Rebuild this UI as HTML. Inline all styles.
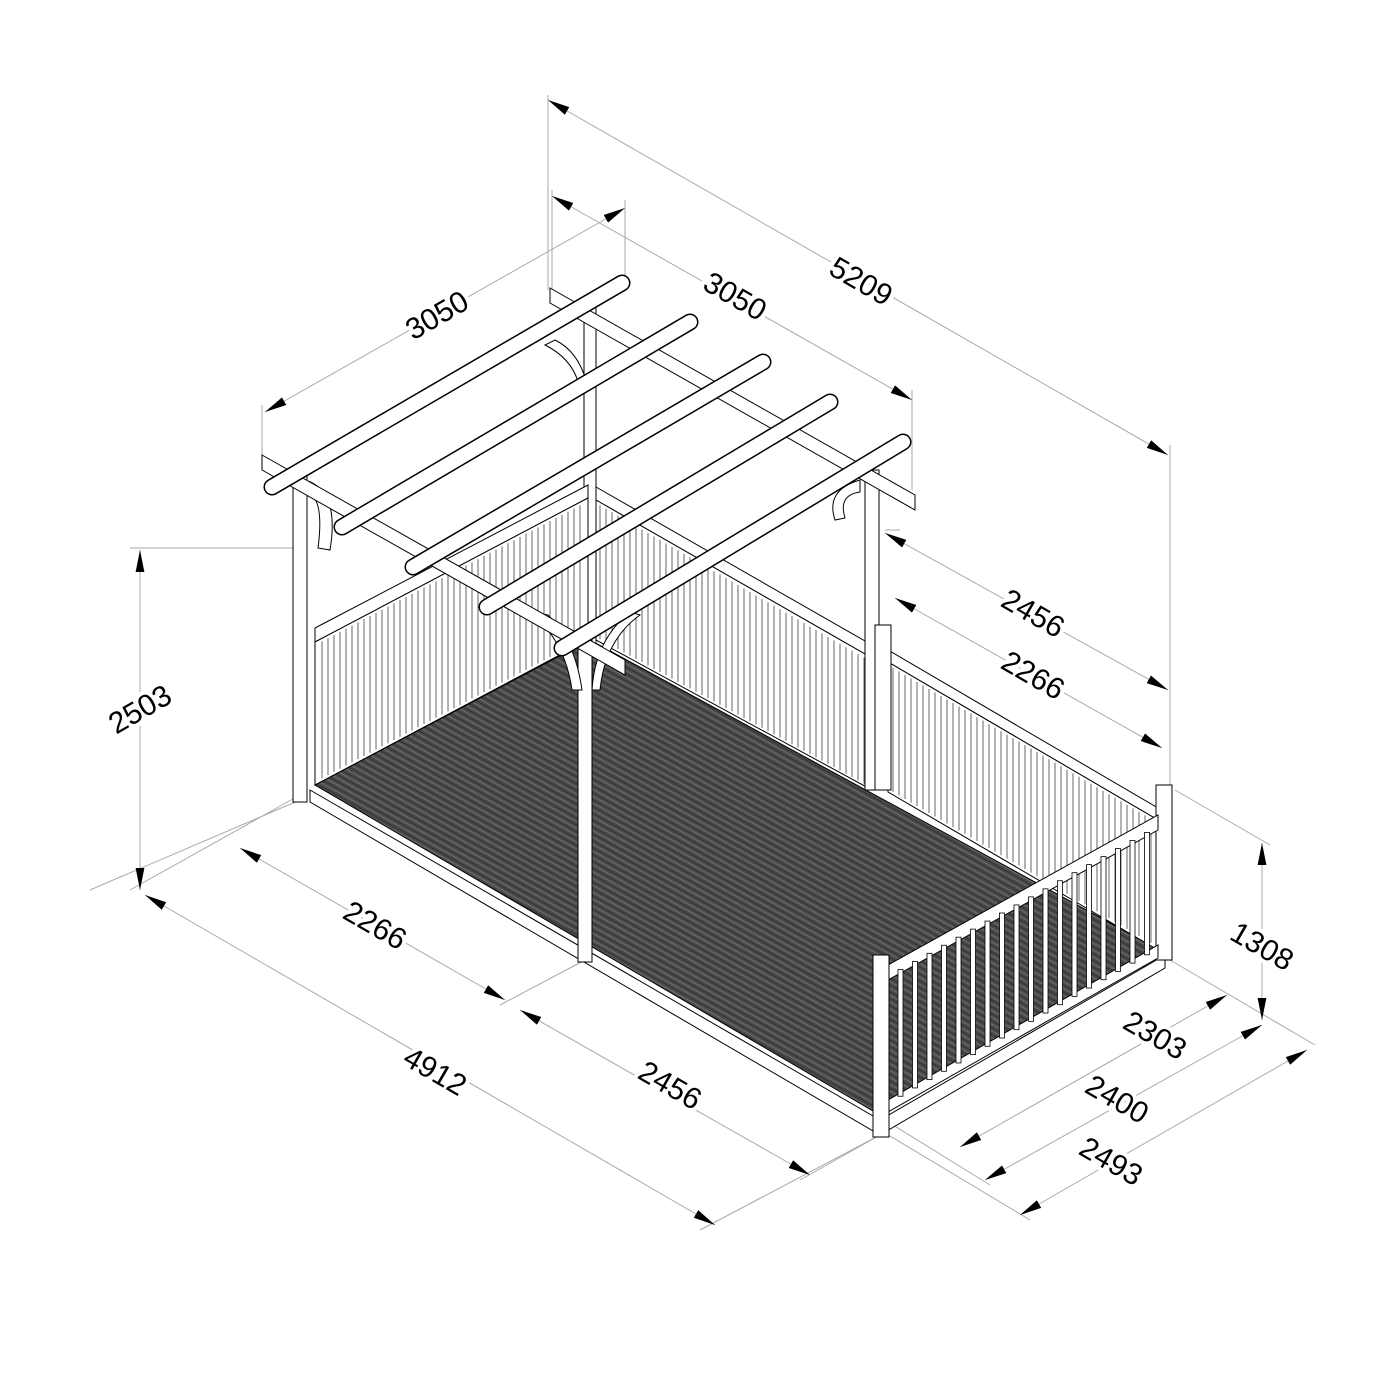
<!DOCTYPE html>
<html><head><meta charset="utf-8"><style>html,body{margin:0;padding:0;background:#fff}svg{display:block}</style></head>
<body>
<svg width="1400" height="1400" viewBox="0 0 1400 1400" xmlns="http://www.w3.org/2000/svg">
<defs>
<marker id="a" viewBox="0 0 10 10" refX="10" refY="5" markerWidth="22" markerHeight="22" markerUnits="userSpaceOnUse" orient="auto-start-reverse">
<path d="M10,5 L0,3 L0,7 Z" fill="#000"/></marker>
<pattern id="deck" width="6" height="6" patternUnits="userSpaceOnUse" patternTransform="rotate(29)">
<rect width="6" height="6" fill="#4a4a4a"/><line x1="0" y1="1" x2="6" y2="1" stroke="#6e6e6e" stroke-width="1"/><line x1="0" y1="4" x2="6" y2="4" stroke="#333" stroke-width="1"/>
</pattern>
</defs>
<g stroke="#aaa" stroke-width="1" fill="none">
<line x1="548" y1="95" x2="548" y2="290"/><line x1="1170" y1="445" x2="1170" y2="790"/>
<line x1="552" y1="190" x2="552" y2="290"/><line x1="625" y1="200" x2="625" y2="280"/><line x1="912" y1="390" x2="912" y2="490"/>
<line x1="262" y1="405" x2="262" y2="455"/>
<line x1="130" y1="548" x2="300" y2="548"/><line x1="130" y1="890" x2="300" y2="795"/>
<line x1="90" y1="890" x2="300" y2="800"/><line x1="700" y1="1230" x2="880" y2="1135"/>
<line x1="500" y1="1005" x2="585" y2="960"/><line x1="800" y1="1180" x2="880" y2="1135"/>
<line x1="1170" y1="960" x2="1315" y2="1045"/><line x1="1175" y1="790" x2="1270" y2="845"/>
<line x1="880" y1="1130" x2="1030" y2="1220"/><line x1="885" y1="1120" x2="990" y2="1185"/>
<line x1="885" y1="530" x2="900" y2="530"/>
<line x1="548" y1="100" x2="1168" y2="455" marker-start="url(#a)" marker-end="url(#a)"/>
<line x1="552" y1="196" x2="912" y2="400" marker-start="url(#a)" marker-end="url(#a)"/>
<line x1="265" y1="412" x2="625" y2="208" marker-start="url(#a)" marker-end="url(#a)"/>
<line x1="140" y1="550" x2="140" y2="890" marker-start="url(#a)" marker-end="url(#a)"/>
<line x1="885" y1="533" x2="1168" y2="690" marker-start="url(#a)" marker-end="url(#a)"/>
<line x1="895" y1="598" x2="1162" y2="748" marker-start="url(#a)" marker-end="url(#a)"/>
<line x1="240" y1="848" x2="505" y2="1000" marker-start="url(#a)" marker-end="url(#a)"/>
<line x1="145" y1="895" x2="715" y2="1225" marker-start="url(#a)" marker-end="url(#a)"/>
<line x1="520" y1="1010" x2="810" y2="1175" marker-start="url(#a)" marker-end="url(#a)"/>
<line x1="1262" y1="843" x2="1262" y2="1020" marker-start="url(#a)" marker-end="url(#a)"/>
<line x1="960" y1="1147" x2="1227" y2="995" marker-start="url(#a)" marker-end="url(#a)"/>
<line x1="985" y1="1180" x2="1262" y2="1025" marker-start="url(#a)" marker-end="url(#a)"/>
<line x1="1020" y1="1215" x2="1307" y2="1050" marker-start="url(#a)" marker-end="url(#a)"/>
</g>
<g font-family="Liberation Sans Narrow, Liberation Sans, sans-serif" font-size="30" fill="#000" text-anchor="middle" stroke="#fff" stroke-width="8" paint-order="stroke">
<text transform="translate(856,290) rotate(30)">5209</text>
<text transform="translate(730,305) rotate(30)">3050</text>
<text transform="translate(442,324) rotate(-30)">3050</text>
<text transform="translate(145,718) rotate(-30)">2503</text>
<text transform="translate(1028,622) rotate(30)">2456</text>
<text transform="translate(1028,684) rotate(30)">2266</text>
<text transform="translate(370,934) rotate(30)">2266</text>
<text transform="translate(430,1080) rotate(30)">4912</text>
<text transform="translate(665,1094) rotate(30)">2456</text>
<text transform="translate(1257,955) rotate(30)">1308</text>
<text transform="translate(1150,1044) rotate(30)">2303</text>
<text transform="translate(1112,1108) rotate(30)">2400</text>
<text transform="translate(1106,1170) rotate(30)">2493</text>
</g>
<polygon points="315,785 590,640 1160,950 880,1115" fill="url(#deck)" stroke="#000" stroke-width="1"/>
<polygon points="310,790 880,1120 880,1135 310,802" fill="#fff" stroke="#000"/>
<polygon points="880,1120 1165,955 1165,968 880,1135" fill="#fff" stroke="#000"/>
<g stroke="#000" stroke-width="1" fill="#fff">
<rect x="584" y="305" width="12" height="340"/>
<polygon points="315,628 588,485 588,498 315,642"/>
<polygon points="315,642 588,498 588,640 315,785"/>
<polygon points="596,487 872,645 872,658 596,500"/>
<polygon points="596,500 872,658 872,790 596,640"/>
<polygon points="888,650 1158,808 1158,820 888,662"/>
<polygon points="888,662 1158,820 1158,950 888,792"/>
</g>
<g stroke="#555" stroke-width="0.9" id="slats"></g>
<g stroke="#000" stroke-width="1" fill="#fff">
<rect x="293" y="470" width="14" height="332"/>
<rect x="865" y="470" width="14" height="320"/>
<rect x="875" y="625" width="16" height="165"/>
<rect x="1156" y="785" width="16" height="175"/>
<polygon points="888,965 1158,815 1158,830 888,980"/>
<polygon points="888,1100 1158,945 1158,958 888,1112"/>
</g>
<g stroke="#000" stroke-width="0.8" fill="#fff" id="bal"></g>
<g stroke="#000" stroke-width="1" fill="#fff">
<rect x="873" y="955" width="16" height="182"/>
<rect x="578" y="640" width="14" height="322"/>
<path d="M530,612 Q565,640 572,690 L582,690 Q575,640 548,615 Z"/>
<path d="M630,612 Q595,640 592,690 L600,690 Q605,640 640,615 Z"/>
<path d="M305,480 Q340,490 330,550 L318,548 Q325,495 305,492 Z"/>
<path d="M860,480 Q825,490 835,520 L845,518 Q838,495 860,492 Z"/>
<path d="M545,345 Q575,360 580,390 L588,388 Q580,352 555,340 Z"/>
<polygon points="262,455 625,660 625,675 262,470"/>
<polygon points="550,288 915,495 915,510 550,303"/>
</g>
<g fill="none" stroke-linecap="round">
<g stroke="#000" stroke-width="17">
<line x1="272" y1="487" x2="622" y2="283"/><line x1="342" y1="527" x2="690" y2="322"/><line x1="413" y1="567" x2="763" y2="362"/><line x1="487" y1="607" x2="830" y2="402"/><line x1="562" y1="648" x2="903" y2="442"/>
</g>
<g stroke="#fff" stroke-width="14">
<line x1="272" y1="487" x2="622" y2="283"/><line x1="342" y1="527" x2="690" y2="322"/><line x1="413" y1="567" x2="763" y2="362"/><line x1="487" y1="607" x2="830" y2="402"/><line x1="562" y1="648" x2="903" y2="442"/>
</g>
</g>
<script>
var ns="http://www.w3.org/2000/svg",s=document.getElementById("slats"),b=document.getElementById("bal");
function L(g,x1,y1,x2,y2){var l=document.createElementNS(ns,"line");l.setAttribute("x1",x1);l.setAttribute("y1",y1);l.setAttribute("x2",x2);l.setAttribute("y2",y2);g.appendChild(l);}
for(var x=322;x<585;x+=6){var t=642-(x-315)*0.527,d=785-(x-315)*0.531;L(s,x,t+3,x,d-3);}
for(var x=600;x<870;x+=6){var t=500+(x-596)*0.577,d=640+(x-596)*0.547;L(s,x,t+3,x,d-3);}
for(var x=893;x<1156;x+=6){var t=662+(x-888)*0.585,d=792+(x-888)*0.585;L(s,x,t+3,x,d-3);}
for(var x=898;x<1150;x+=14.5){var t=975-(x-888)*0.556,d=1102-(x-888)*0.574;var r=document.createElementNS(ns,"rect");r.setAttribute("x",x);r.setAttribute("y",t);r.setAttribute("width",5);r.setAttribute("height",d-t);b.appendChild(r);}
</script>
</svg>
</body></html>
